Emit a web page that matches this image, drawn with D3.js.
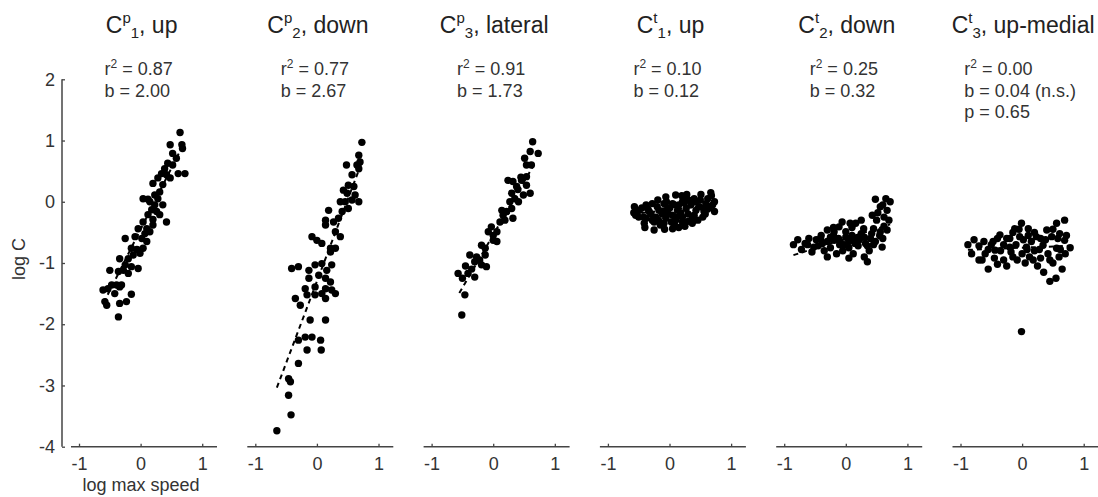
<!DOCTYPE html>
<html>
<head>
<meta charset="utf-8">
<script src="https://cdn.jsdelivr.net/npm/d3@7"></script>
<style>
  body { margin: 0; background: #fff; }
  text { font-family: "Liberation Sans", Arial, sans-serif; fill: #333; }
</style>
</head>
<body>
<div class="chart"></div>
<script>
var svgWidth = 1098;
var svgHeight = 497;

// panel labels
var titleSup = ["p", "p", "p", "t", "t", "t"];
var titleSub = ["1", "2", "3", "1", "2", "3"];
var titleDir = ["up", "down", "lateral", "up", "down", "up-medial"];
var r2Labels = ["0.87", "0.77", "0.91", "0.10", "0.25", "0.00"];
var bLabels = ["2.00", "2.67", "1.73", "0.12", "0.32", "0.04 (n.s.)"];
var pLabels = [null, null, null, null, null, "0.65"];

var xTicks = [-1, 0, 1];
var yTicks = [2, 1, 0, -1, -2, -3, -4];

// regression lines: intercept, slope, x extent
var fitIntercept = [-0.45, -1.30, -0.54, -0.13, -0.60, -0.75];
var fitSlope = [2.00, 2.67, 1.73, 0.12, 0.32, 0.04];
var fitFrom = [-0.60, -0.65, -0.55, -0.60, -0.85, -0.88];
var fitTo = [0.68, 0.73, 0.70, 0.73, 0.72, 0.75];

// points [log max speed, log C]
var cp1 = [[0.64,1.13],[0.48,0.93],[0.67,0.93],[0.68,0.87],[0.52,0.79],[0.58,0.71],[0.44,0.63],[0.39,0.54],
  [0.52,0.60],[0.61,0.46],[0.72,0.46],[0.34,0.46],[0.42,0.44],[0.20,0.30],[0.36,0.28],[0.04,0.05],[0.12,0.04],
  [0.23,0.11],[0.28,0.05],[0.23,-0.05],[0.36,-0.05],[0.18,-0.13],[0.26,-0.16],[0.31,-0.21],[0.12,-0.21],
  [0.20,-0.29],[0.04,-0.33],[0.42,-0.33],[-0.04,-0.44],[0.10,-0.44],[0.20,-0.38],[-0.25,-0.60],[-0.09,-0.57],
  [0.02,-0.60],[0.10,-0.65],[-0.15,-0.76],[-0.06,-0.78],[0.04,-0.76],[-0.12,-0.87],[-0.01,-0.84],[-0.20,-0.93],
  [-0.34,-0.93],[-0.25,-1.03],[-0.15,-1.06],[-0.04,-1.09],[-0.50,-1.12],[-0.36,-1.14],[-0.28,-1.12],[-0.20,-1.17],
  [-0.39,-1.36],[-0.47,-1.36],[-0.31,-1.36],[-0.61,-1.44],[-0.53,-1.42],[-0.42,-1.50],[-0.34,-1.39],[-0.15,-1.51],
  [-0.23,-1.63],[-0.34,-1.66],[-0.58,-1.63],[-0.55,-1.69],[-0.36,-1.88],[0.15,-0.49],[0.07,-0.52],[0.31,0.16],
  [0.15,0.00],[0.48,0.39],[0.28,0.39]];

var cp2 = [[0.73,0.97],[0.68,0.76],[0.70,0.65],[0.65,0.60],[0.48,0.60],[0.57,0.44],[0.68,0.54],[0.51,0.27],
  [0.60,0.25],[0.43,0.19],[0.49,0.14],[0.38,0.00],[0.46,0.00],[0.57,0.03],[0.68,0.00],[0.62,0.11],[0.51,-0.11],
  [0.41,-0.16],[0.19,-0.14],[0.14,-0.30],[0.27,-0.33],[0.35,-0.27],[0.14,-0.38],[0.30,-0.49],[0.38,-0.57],
  [-0.08,-0.57],[0.00,-0.63],[0.08,-0.68],[0.22,-0.76],[0.30,-0.76],[0.22,-0.82],[-0.41,-1.09],[-0.30,-1.06],
  [-0.13,-1.12],[-0.03,-1.03],[0.08,-1.01],[0.16,-1.12],[0.24,-1.03],[-0.13,-1.25],[0.03,-1.20],[0.14,-1.25],
  [0.22,-1.31],[-0.19,-1.42],[-0.03,-1.39],[0.14,-1.42],[0.24,-1.44],[-0.16,-1.52],[-0.03,-1.52],[0.08,-1.50],
  [0.30,-1.50],[0.14,-1.58],[-0.35,-1.58],[-0.27,-1.69],[-0.11,-1.93],[0.14,-1.93],[-0.30,-2.26],[-0.19,-2.21],
  [-0.08,-2.21],[0.06,-2.26],[-0.16,-2.42],[0.07,-2.42],[-0.30,-2.64],[-0.46,-2.89],[-0.43,-2.94],[-0.46,-3.16],
  [-0.42,-3.48],[-0.65,-3.74]];

var cp3 = [[0.64,0.98],[0.60,0.82],[0.73,0.79],[0.51,0.71],[0.54,0.60],[0.62,0.60],[0.54,0.41],[0.24,0.35],
  [0.32,0.33],[0.46,0.35],[0.38,0.25],[0.54,0.27],[0.60,0.14],[0.49,0.11],[0.30,0.14],[0.35,0.05],[0.27,0.00],
  [0.41,0.00],[0.30,-0.11],[0.14,-0.14],[0.22,-0.16],[0.32,-0.27],[0.19,-0.30],[0.11,-0.33],[-0.03,-0.41],
  [0.06,-0.49],[-0.08,-0.49],[0.00,-0.63],[0.06,-0.65],[-0.19,-0.71],[-0.13,-0.76],[-0.38,-0.87],[-0.27,-0.90],
  [-0.13,-0.87],[-0.30,-0.98],[-0.19,-1.03],[-0.11,-1.06],[-0.57,-1.17],[-0.41,-1.17],[-0.30,-1.23],[-0.46,-1.52],
  [-0.51,-1.85],[-0.35,-1.10],[-0.22,-0.95],[0.00,-0.55],[0.16,-0.22],[0.40,0.20],[0.45,0.40],[-0.50,-1.25],
  [-0.45,-1.05]];

var ct1 = [[0.67,0.15],[0.51,0.12],[0.27,0.08],[0.10,0.11],[-0.06,0.08],[-0.19,0.03],[0.73,0.00],[0.70,-0.05],
  [0.59,-0.03],[0.43,0.00],[0.35,-0.05],[0.21,0.00],[0.05,-0.03],[-0.09,-0.03],[-0.28,-0.03],[-0.38,-0.05],
  [-0.57,-0.08],[-0.49,-0.14],[-0.33,-0.16],[-0.17,-0.14],[-0.03,-0.11],[0.13,-0.14],[0.27,-0.11],[0.43,-0.14],
  [0.56,-0.16],[0.73,-0.16],[-0.55,-0.22],[-0.38,-0.27],[-0.22,-0.25],[-0.06,-0.27],[0.05,-0.22],[0.21,-0.25],
  [0.37,-0.27],[0.54,-0.25],[-0.41,-0.35],[-0.25,-0.33],[-0.09,-0.35],[0.08,-0.38],[0.21,-0.33],[0.37,-0.35],
  [-0.25,-0.46],[0.05,-0.44],[-0.45,-0.10],[-0.12,-0.20],[0.00,-0.10],[0.15,-0.05],[0.30,-0.20],[0.48,-0.08],
  [0.62,0.05],[-0.30,-0.20],[0.10,-0.30],[0.25,-0.40],[-0.15,-0.38],[0.40,0.05],[0.55,-0.10],[-0.05,0.00],
  [0.20,0.10],[-0.20,-0.08],[0.65,-0.08],[-0.50,-0.25],[-0.52,-0.15],[-0.42,-0.25],[-0.35,-0.12],[-0.28,-0.30],
  [-0.18,-0.30],[-0.10,-0.15],[-0.02,-0.20],[0.03,-0.33],[0.08,-0.05],[0.12,-0.25],[0.18,-0.18],[0.24,-0.02],
  [0.30,-0.32],[0.33,0.02],[0.40,-0.22],[0.46,-0.30],[0.50,0.03],[0.58,-0.20],[0.62,-0.12],[0.68,0.10],
  [-0.58,-0.18],[-0.40,-0.42],[0.15,-0.42],[-0.08,-0.45],[0.28,0.12]];

var ct2 = [[0.48,0.04],[0.72,0.00],[0.67,-0.14],[0.56,-0.08],[0.43,-0.22],[0.62,-0.25],[0.70,-0.30],[-0.06,-0.33],
  [0.07,-0.35],[0.16,-0.35],[-0.30,-0.46],[-0.19,-0.49],[-0.11,-0.41],[0.00,-0.49],[0.29,-0.44],[0.45,-0.44],
  [0.56,-0.49],[0.67,-0.46],[-0.66,-0.68],[-0.52,-0.74],[-0.41,-0.60],[-0.30,-0.65],[-0.19,-0.63],[-0.09,-0.65],
  [0.05,-0.65],[0.18,-0.60],[0.32,-0.68],[0.48,-0.65],[0.59,-0.74],[-0.60,-0.60],[-0.45,-0.72],[-0.35,-0.80],
  [-0.25,-0.75],[-0.15,-0.85],[-0.05,-0.80],[0.05,-0.75],[0.12,-0.85],[0.20,-0.72],[0.30,-0.90],[0.38,-0.80],
  [0.35,-0.98],[0.45,-0.70],[-0.40,-0.55],[-0.20,-0.55],[0.00,-0.58],[0.10,-0.55],[0.25,-0.52],[-0.55,-0.82],
  [-0.10,-0.70],[0.15,-0.68],[-0.30,-0.90],[0.05,-0.92],[0.40,-0.60],[0.60,-0.60],[0.25,-0.30],[0.50,-0.30],
  [0.65,0.05],[-0.85,-0.70],[-0.78,-0.62],[-0.72,-0.78],[-0.62,-0.70],[-0.48,-0.62],[-0.38,-0.68],[-0.25,-0.58],
  [-0.12,-0.60],[-0.02,-0.70],[0.08,-0.62],[0.22,-0.62],[0.35,-0.72],[0.42,-0.52],[0.55,-0.55],[0.62,-0.40],
  [0.52,-0.18],[0.60,-0.05],[-0.20,-0.42],[0.10,-0.42],[0.30,-0.58]];

var ct3 = [[0.69,-0.30],[0.56,-0.35],[-0.01,-0.35],[-0.12,-0.44],[0.10,-0.44],[0.40,-0.46],[0.61,-0.52],
  [-0.36,-0.54],[-0.25,-0.60],[-0.47,-0.65],[-0.04,-0.57],[0.23,-0.57],[0.48,-0.57],[0.69,-0.63],[-0.44,-0.79],
  [-0.20,-0.74],[0.07,-0.74],[0.34,-0.71],[0.56,-0.76],[-0.70,-0.72],[-0.65,-0.95],[-0.55,-1.10],[-0.60,-0.85],
  [-0.50,-0.70],[-0.35,-0.80],[-0.30,-0.95],[-0.25,-1.05],[-0.15,-0.90],[-0.10,-0.70],[0.00,-0.85],[0.05,-1.00],
  [0.12,-0.90],[0.20,-0.80],[0.25,-1.05],[0.30,-0.92],[0.35,-1.15],[0.42,-0.85],[0.50,-1.00],[0.55,-1.25],
  [0.60,-0.90],[0.65,-1.10],[0.70,-0.85],[0.45,-1.30],[0.15,-0.65],[-0.20,-0.60],[0.30,-0.60],[0.10,-0.55],
  [-0.05,-0.45],[0.20,-0.50],[-0.40,-0.60],[-0.01,-2.12],[-0.88,-0.70],[-0.82,-0.85],[-0.78,-0.62],[-0.70,-0.95],
  [-0.62,-0.65],[-0.55,-0.78],[-0.45,-0.92],[-0.40,-1.02],[-0.30,-0.70],[-0.18,-0.82],[-0.08,-0.95],[0.02,-0.62],
  [0.08,-0.78],[0.18,-0.95],[0.28,-0.78],[0.38,-0.62],[0.45,-0.95],[0.58,-0.60],[0.62,-0.78],[0.72,-0.55],
  [0.50,-0.45],[-0.15,-0.50],[0.78,-0.75]];

var panelData = [cp1, cp2, cp3, ct1, ct2, ct3];

var panelLeft = 71, panelStep = 176.3, panelW = 146;
var axisY = 446.7;

var svg = d3.select(".chart")
    .append("svg")
    .attr("width", svgWidth)
    .attr("height", svgHeight);

var yScale = d3.scaleLinear()
    .domain([-4, 2])
    .range([446.7, 79.3]);

var xScale = d3.scaleLinear()
    .domain([-1.13, 1.24])
    .range([0, panelW]);

var fmt = function(d) { return String(d); };   // plain hyphen minus

// y axis, ticks pointing inward
var leftAxis = d3.axisRight(yScale).tickValues(yTicks).tickSize(3).tickFormat(fmt);
var yAx = svg.append("g")
    .attr("transform", "translate(62,0)")
    .call(leftAxis);
yAx.select(".domain").attr("d", "M0," + yScale(2) + "V" + yScale(-4));
yAx.selectAll("text").attr("x", -7).attr("text-anchor", "end").attr("font-size", 18);

var line = d3.line()
    .x(function(d) { return xScale(d[0]); })
    .y(function(d) { return yScale(d[1]); });

panelData.forEach(function(pts, i) {
    var g = svg.append("g")
        .attr("transform", "translate(" + (panelLeft + i * panelStep) + ",0)");

    var bottomAxis = d3.axisTop(xScale).tickValues(xTicks).tickSize(3).tickFormat(fmt);
    var xAx = g.append("g")
        .attr("transform", "translate(0," + axisY + ")")
        .call(bottomAxis);
    xAx.select(".domain").attr("d", "M0,0H" + panelW);
    xAx.selectAll("text").attr("y", 23).attr("font-size", 18);

    var x0 = xScale(0);

    // title
    var t = g.append("text")
        .attr("x", x0 + 1)
        .attr("y", 33)
        .attr("text-anchor", "middle")
        .attr("font-size", 23)
        .style("fill", "#222");
    t.append("tspan").text("C");
    t.append("tspan").attr("font-size", 15).attr("dy", -10).text(titleSup[i]);
    t.append("tspan").attr("font-size", 15).attr("dy", 15).text(titleSub[i]);
    t.append("tspan").attr("dy", -5).text(", " + titleDir[i]);

    // stats block, left aligned, centred on the panel
    var stats = g.append("g");
    var l1 = stats.append("text").attr("y", 75).attr("font-size", 18);
    l1.append("tspan").text("r");
    l1.append("tspan").attr("font-size", 12).attr("dy", -7).text("2");
    l1.append("tspan").attr("dy", 7).text(" = " + r2Labels[i]);
    stats.append("text").attr("y", 96.5).attr("font-size", 18).text("b = " + bLabels[i]);
    if (pLabels[i]) {
        stats.append("text").attr("y", 118).attr("font-size", 18).text("p = " + pLabels[i]);
    }
    var maxW = 0;
    stats.selectAll("text").each(function() {
        maxW = Math.max(maxW, this.getComputedTextLength());
    });
    stats.selectAll("text").attr("x", x0 - 2 - maxW / 2);

    // regression line
    g.append("path")
        .datum([[fitFrom[i], fitIntercept[i] + fitSlope[i] * fitFrom[i]],
                [fitTo[i], fitIntercept[i] + fitSlope[i] * fitTo[i]]])
        .attr("d", line)
        .attr("fill", "none")
        .attr("stroke", "#000")
        .attr("stroke-width", 2)
        .attr("stroke-dasharray", "5,4");

    g.selectAll("circle")
        .data(pts)
        .enter()
        .append("circle")
        .attr("cx", function(d) { return xScale(d[0]); })
        .attr("cy", function(d) { return yScale(d[1]); })
        .attr("r", 3.7)
        .style("fill", "#000");
});

svg.selectAll(".domain").attr("stroke", "#444").attr("stroke-width", 1.5);
svg.selectAll(".tick line").attr("stroke", "#444").attr("stroke-width", 1.3);
svg.selectAll(".tick text").style("fill", "#333");

// axis labels
svg.append("text")
    .attr("transform", "translate(25,259) rotate(-90)")
    .attr("text-anchor", "middle")
    .attr("font-size", 18)
    .text("log C");

svg.append("text")
    .attr("x", 141)
    .attr("y", 491)
    .attr("text-anchor", "middle")
    .attr("font-size", 18)
    .text("log max speed");
</script>
</body>
</html>
